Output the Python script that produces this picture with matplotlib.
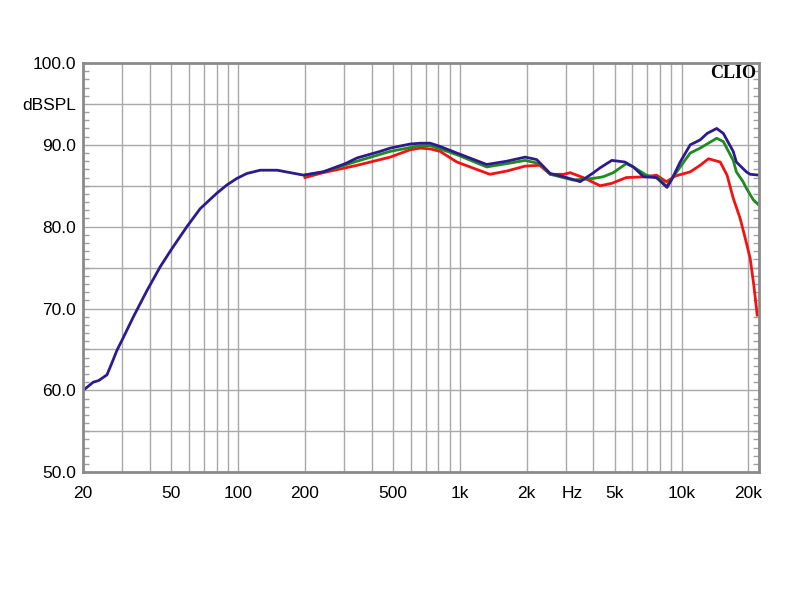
import matplotlib.pyplot as plt
from matplotlib.ticker import FixedLocator, NullFormatter, MultipleLocator

plt.rcParams['font.family'] = ['Liberation Sans', 'DejaVu Sans']

# frequency response (Hz, dBSPL)
blue_f = [20, 22.2, 23.5, 25.6, 26.9, 28.4, 29.9, 33.7, 38.8, 44.5, 50.2, 58.7, 67.4, 80.2,
          89, 98.7, 109.5, 125.7, 150, 172, 197, 242, 304, 344, 437, 485, 597, 663, 735,
          815, 969, 1321, 1628, 1970, 2220, 2556, 2941, 3489, 4010, 4295, 4850, 5550,
          6060, 6740, 7700, 8600, 9000, 9860, 10940, 12130, 13048, 14400, 15430, 17100,
          17670, 18940, 19600, 20400, 22400]
blue_db = [60.0, 61.0, 61.2, 61.9, 63.3, 64.9, 66.1, 69.0, 72.2, 75.1, 77.3, 80.0, 82.2, 84.1,
           85.1, 85.9, 86.5, 86.9, 86.9, 86.6, 86.3, 86.7, 87.7, 88.4, 89.2, 89.6, 90.1, 90.2, 90.2,
           89.8, 89.0, 87.6, 88.0, 88.5, 88.2, 86.5, 86.1, 85.5, 86.6, 87.2, 88.1, 87.9,
           87.3, 86.1, 86.0, 84.8, 85.7, 87.9, 90.0, 90.6, 91.4, 92.0, 91.4, 89.2,
           87.9, 87.1, 86.7, 86.4, 86.3]

green_f = [200, 242, 344, 485, 663, 735, 815, 969, 1321, 1628, 1970, 2290, 2556, 3236, 4000,
           4430, 4920, 5630, 6060, 6930, 7950, 8540, 9860, 10940, 12130, 14400, 15430,
           17100, 17670, 18940, 19600, 21045, 22400]
green_db = [86.3, 86.7, 88.0, 89.2, 89.9, 89.9, 89.5, 88.8, 87.3, 87.7, 88.1, 87.7, 86.4, 85.7, 85.9,
            86.1, 86.6, 87.7, 87.3, 86.3, 85.9, 84.9, 87.3, 89.0, 89.6, 90.8, 90.4,
            88.1, 86.7, 85.5, 84.7, 83.3, 82.6]

red_f = [200, 242, 344, 485, 597, 663, 735, 815, 969, 1366, 1628, 1970, 2290, 2556, 2941,
         3146, 3600, 4295, 4850, 5630, 6930, 7700, 8540, 9400, 10940, 12130, 13230, 14940,
         16040, 17100, 18380, 19370, 20400, 21170, 21940]
red_db = [86.0, 86.6, 87.5, 88.5, 89.4, 89.6, 89.5, 89.2, 87.9, 86.4, 86.8, 87.4, 87.5, 86.4, 86.4,
          86.6, 86.0, 85.0, 85.3, 86.0, 86.1, 86.3, 85.5, 86.2, 86.7, 87.5, 88.3, 87.9,
          86.3, 83.5, 81.0, 78.6, 76.1, 72.9, 69.2]

x_ticks = [20, 50, 100, 200, 500, 1000, 2000, 3200, 5000, 10000, 20000]
x_labels = ['20', '50', '100', '200', '500', '1k', '2k', 'Hz', '5k', '10k', '20k']
y_ticks = [50, 60, 70, 80, 90, 95, 100]
y_labels = ['50.0', '60.0', '70.0', '80.0', '90.0', 'dBSPL', '100.0']

grid_x = ([f for f in range(20, 100, 10)] + [f for f in range(100, 1000, 100)] +
          [f for f in range(1000, 10000, 1000)] + [10000, 20000])

fig = plt.figure(figsize=(8, 6), dpi=100)
ax = fig.add_axes([0.104, 0.213, 0.845, 0.682])

ax.plot(red_f, red_db, color='#f21212', lw=2)
ax.plot(green_f, green_db, color='#1f8a1f', lw=2)
ax.plot(blue_f, blue_db, color='#2e1a8e', lw=2)

ax.set_xscale('log')
ax.set_xlim(20, 22400)
ax.set_ylim(50, 100)

for f in grid_x:
    ax.axvline(f, color='#a8a8a8', lw=1, zorder=0)
for d in range(55, 100, 5):
    ax.axhline(d, color='#a8a8a8', lw=1, zorder=0)

ax.xaxis.set_major_locator(FixedLocator(x_ticks))
ax.set_xticklabels(x_labels)
ax.xaxis.set_minor_formatter(NullFormatter())
ax.xaxis.set_minor_locator(FixedLocator([]))
ax.set_yticks(y_ticks)
ax.set_yticklabels(y_labels)
ax.yaxis.set_minor_locator(MultipleLocator(1))

ax.tick_params(axis='both', which='major', length=0, labelsize=12.5, colors='black')
ax.tick_params(axis='x', which='major', pad=10)
ax.tick_params(axis='y', which='major', pad=5)
ax.tick_params(axis='y', which='minor', direction='in', length=4, width=1,
               color='#a0a0a0', left=True, right=True)

for s in ax.spines.values():
    s.set_color('#8a8a8a')
    s.set_linewidth(2)

ax.text(0.995, 0.975, 'CLIO', transform=ax.transAxes, ha='right', va='center',
        fontsize=13, fontweight='bold', family=['Liberation Serif', 'DejaVu Serif'])

fig.savefig('out.png', dpi=100)
